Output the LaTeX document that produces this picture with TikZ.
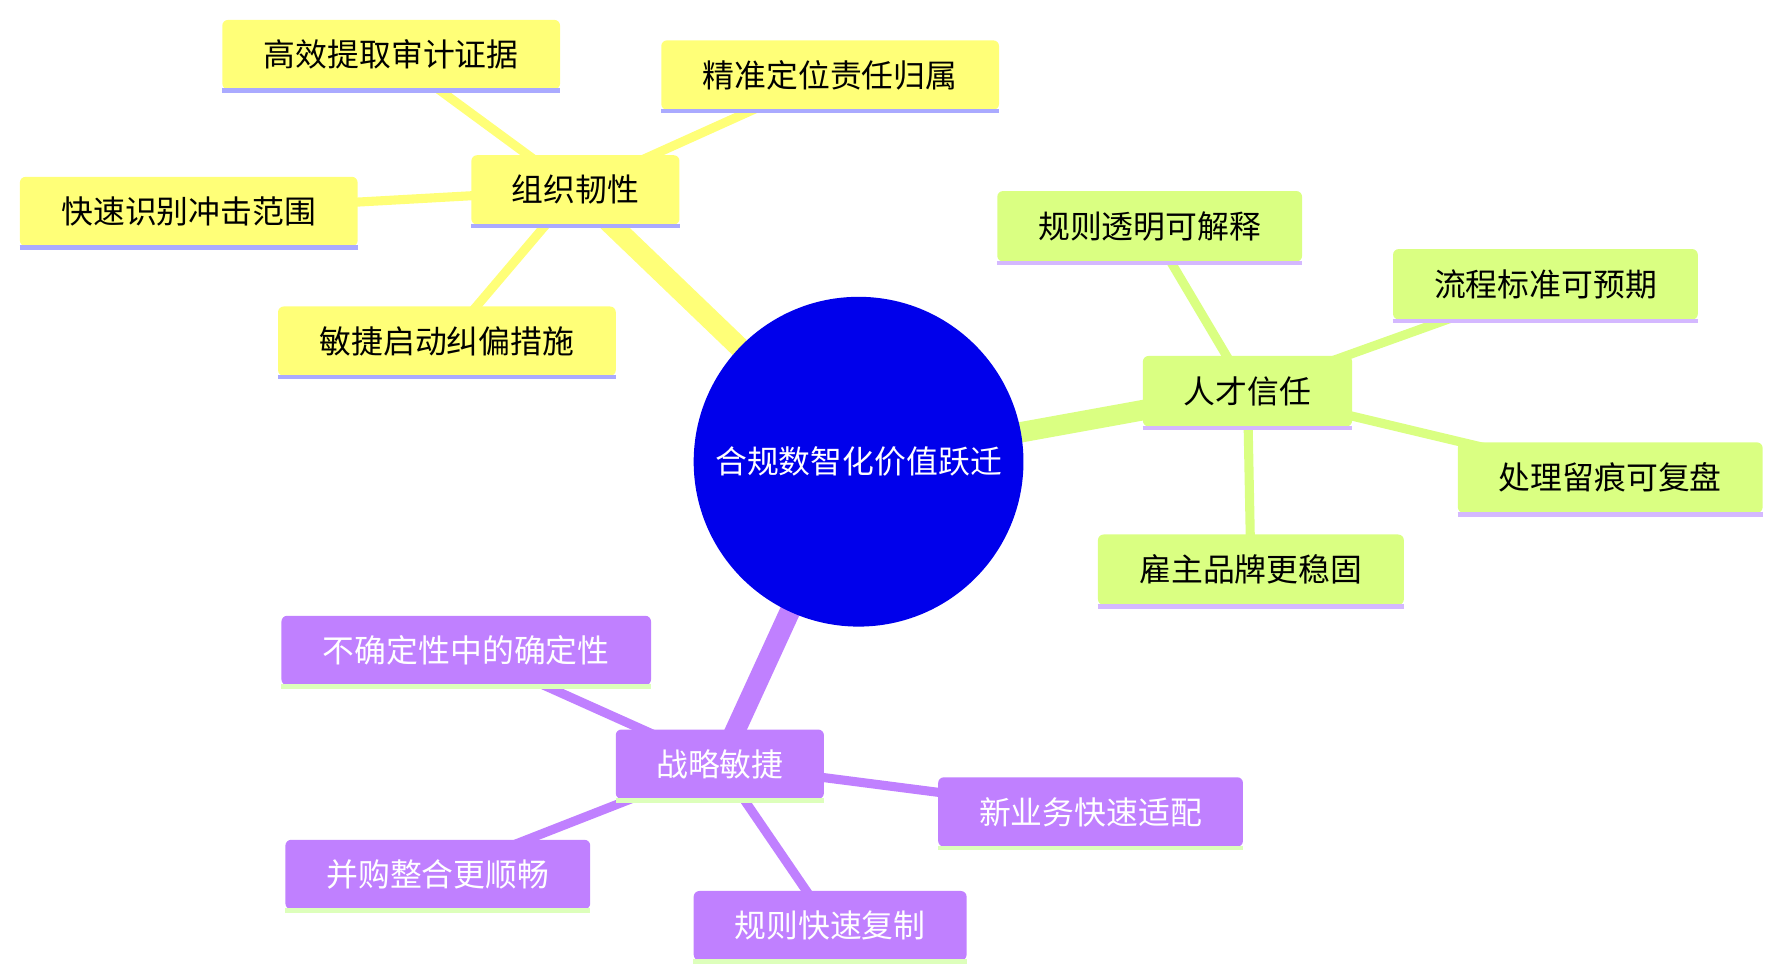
\documentclass[tikz,border=0pt]{standalone}
\usepackage{fontspec}
\setmainfont{Noto Sans CJK SC}
\begin{document}
\begin{tikzpicture}[x=1pt,y=-1pt,
  yb/.style={fill=yfill,draw=none,rounded corners=5pt,minimum height=61pt,font=\fontsize{28}{30}\selectfont,text=black,inner sep=0pt},
  gb/.style={fill=gfill,draw=none,rounded corners=5pt,minimum height=62pt,font=\fontsize{28}{30}\selectfont,text=black,inner sep=0pt},
  pb/.style={fill=pfill,draw=none,rounded corners=5pt,minimum height=61pt,font=\fontsize{28}{30}\selectfont,text=white,inner sep=0pt},
  ye/.style={draw=yfill,line width=8pt},
  ge/.style={draw=gfill,line width=8pt},
  pe/.style={draw=pfill,line width=8pt}]
\definecolor{yfill}{HTML}{FFFF78}
\definecolor{gfill}{HTML}{DAFF82}
\definecolor{pfill}{HTML}{C080FF}
\definecolor{yline}{HTML}{AAAAFF}
\definecolor{gline}{HTML}{D4B8FF}
\definecolor{pline}{HTML}{DDFFBB}
\useasboundingbox (0,0) rectangle (1560,855);
% edges
\coordinate (c) at (755,406);
\coordinate (o) at (506,167);
\coordinate (t) at (1097,344);
\coordinate (s) at (633,672);
\draw[draw=yfill,line width=18pt] (c) -- (o);
\draw[draw=gfill,line width=18pt] (c) -- (t);
\draw[draw=pfill,line width=18pt] (c) -- (s);
\draw[ye] (o) -- (344,48); \draw[ye] (o) -- (730,66);
\draw[ye] (o) -- (166,186); \draw[ye] (o) -- (393,300);
\draw[ge] (t) -- (1011,199); \draw[ge] (t) -- (1359,250);
\draw[ge] (t) -- (1416,420); \draw[ge] (t) -- (1100,501);
\draw[pe] (s) -- (410,572); \draw[pe] (s) -- (959,714);
\draw[pe] (s) -- (385,769); \draw[pe] (s) -- (730,814);
% nodes
\node[circle,fill=blue!92!black,minimum size=290pt,inner sep=0pt,text=white,font=\fontsize{28}{30}\selectfont] (root) at (c) {合规数智化价值跃迁};
\foreach \n/\x/\y/\w/\t in {o1/506/167/183/组织韧性,o2/344/48/297/高效提取审计证据,o3/730/66/297/精准定位责任归属,o4/166/186/297/快速识别冲击范围,o5/393/300/297/敏捷启动纠偏措施}{
 \node[yb,minimum width=\w pt] (\n) at (\x,\y) {\t};
 \draw[yline,line width=4pt] ([yshift=-1pt]\n.south west) -- ([yshift=-1pt]\n.south east);}
\foreach \n/\x/\y/\w/\t in {t1/1097/344/184/人才信任,t2/1011/199/268/规则透明可解释,t3/1359/250/268/流程标准可预期,t4/1416/420/268/处理留痕可复盘,t5/1100/501/269/雇主品牌更稳固}{
 \node[gb,minimum width=\w pt] (\n) at (\x,\y) {\t};
 \draw[gline,line width=4pt] ([yshift=-1pt]\n.south west) -- ([yshift=-1pt]\n.south east);}
\foreach \n/\x/\y/\w/\t in {s1/633/672/183/战略敏捷,s2/410/572/325/不确定性中的确定性,s3/959/714/268/新业务快速适配,s4/385/769/268/并购整合更顺畅,s5/730/814/240/规则快速复制}{
 \node[pb,minimum width=\w pt] (\n) at (\x,\y) {\t};
 \draw[pline,line width=4pt] ([yshift=-1pt]\n.south west) -- ([yshift=-1pt]\n.south east);}
\end{tikzpicture}
\end{document}
